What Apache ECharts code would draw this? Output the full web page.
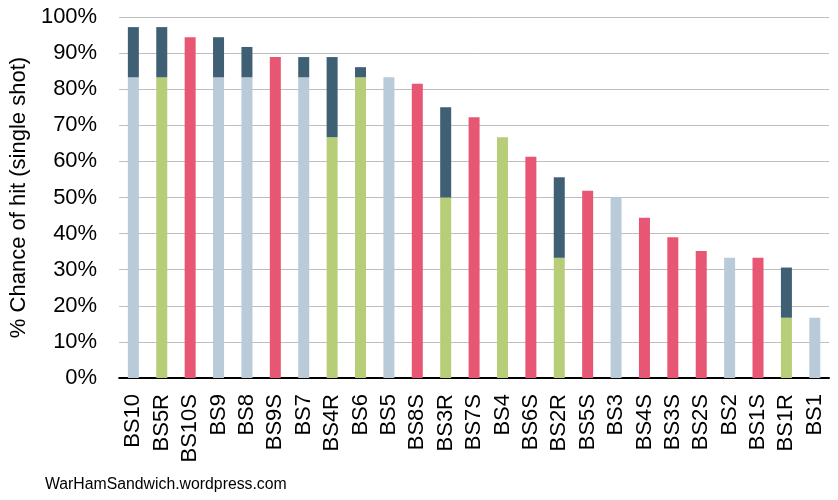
<!DOCTYPE html>
<html>
<head>
<meta charset="utf-8">
<script src="https://cdn.jsdelivr.net/npm/echarts@6/dist/echarts.min.js"></script>
<style>
html,body{margin:0;padding:0;background:#fff;}
#c{width:838px;height:500px;}
</style>
</head>
<body>
<div id="c"></div>
<script>
const categories = ['BS10','BS5R','BS10S','BS9','BS8','BS9S','BS7','BS4R','BS6','BS5','BS8S','BS3R','BS7S','BS4','BS6S','BS2R','BS5S','BS3','BS4S','BS3S','BS2S','BS2','BS1S','BS1R','BS1'];
// base (single-shot) chance, in %
const baseValues = [83.3,83.3,94.4,83.3,83.3,88.9,83.3,66.7,83.3,83.3,81.5,50.0,72.2,66.7,61.3,33.3,51.9,50.0,44.4,39.0,35.2,33.3,33.3,16.7,16.7];
// colour group of each base bar: 'P' plain, 'R' re-roll, 'S' special
const baseGroup = ['P','R','S','P','P','S','P','R','R','P','S','R','S','R','S','R','S','P','S','S','S','P','S','R','P'];
// total chance including the extra (dark) part, in %
const totalValues = [97.2,97.2,94.4,94.4,91.7,88.9,88.9,88.9,86.1,83.3,81.5,75.0,72.2,66.7,61.3,55.6,51.9,50.0,44.4,39.0,35.2,33.3,33.3,30.6,16.7];
const yTicks = [0,10,20,30,40,50,60,70,80,90,100];

const groupColors = {P:'#B9CAD8', R:'#B7CD78', S:'#E75672'};
const darkColor = '#3F5F75';

const baseData = baseValues.map((v,i)=>({value:v, itemStyle:{color:groupColors[baseGroup[i]]}}));
const extraData = totalValues.map((t,i)=>{
  const d = Math.round((t - baseValues[i])*10)/10;
  return d > 0 ? d : '-';
});

const chart = echarts.init(document.getElementById('c'));
chart.setOption({
  animation:false,
  textStyle:{fontFamily:'Liberation Sans, Arial, sans-serif'},
  grid:{left:119,right:9,top:17,bottom:122,containLabel:false},
  xAxis:{
    type:'category',
    data:categories,
    axisLine:{lineStyle:{color:'#000',width:2}},
    axisTick:{show:false},
    axisLabel:{rotate:90,fontSize:22,color:'#000',margin:16,fontFamily:'Liberation Sans, Arial, sans-serif',interval:0}
  },
  yAxis:{
    type:'value',
    min:yTicks[0],max:yTicks[yTicks.length-1],interval:10,
    name:'% Chance of hit (single shot)',
    nameLocation:'middle',
    nameGap:82,
    nameTextStyle:{fontSize:22,color:'#000',fontFamily:'Liberation Sans, Arial, sans-serif'},
    axisLine:{show:false},
    axisTick:{show:false},
    axisLabel:{fontSize:22,color:'#000',margin:22,formatter:v=>v+'%',fontFamily:'Liberation Sans, Arial, sans-serif'},
    splitLine:{lineStyle:{color:'#BEBEBE',width:1}}
  },
  series:[
    {type:'bar',stack:'a',barWidth:11,data:baseData},
    {type:'bar',stack:'a',barWidth:11,data:extraData,itemStyle:{color:darkColor}}
  ],
  graphic:[{
    type:'text',left:45,top:477,
    style:{text:'WarHamSandwich.wordpress.com',fontSize:15.8,fill:'#000',fontFamily:'Liberation Sans, Arial, sans-serif'}
  }]
});
</script>
</body>
</html>
